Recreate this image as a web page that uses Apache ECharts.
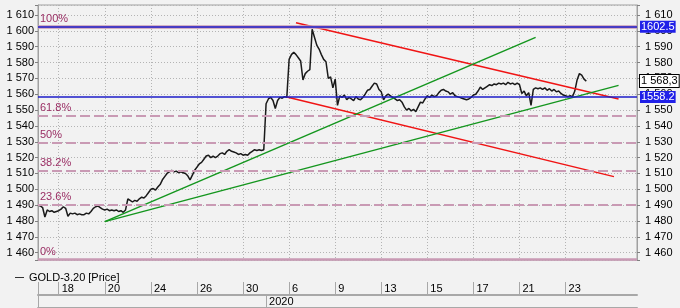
<!DOCTYPE html>
<html><head><meta charset="utf-8">
<script src="https://cdn.jsdelivr.net/npm/echarts@6/dist/echarts.min.js"></script>
<style>html,body{margin:0;padding:0;background:#f2f2f2}#c{width:680px;height:308px}</style>
</head><body><div id="c"></div>
<script>
// ---- data ----
const dayLabels = ['18','20','24','26','30','6','9','13','15','17','21','23'];
const firstLabelBar = 9;
const barsPerLabel = 20;
const totalBars = 261;
const yearLabel = '2020';
const yearStartBar = 99;
const seriesName = 'GOLD-3.20 [Price]';
const prices = [
1490,1489.5,1488.5,1482.5,1487,1486,1486.5,1485.5,1486,1486.5,
1487.5,1489,1488,1483,1485,1484.5,1485,1484,1484.5,1484,
1484,1485,1484.5,1486,1488,1489,1489.5,1488.5,1487.5,1487,
1487.5,1486.5,1487,1486.5,1487,1486,1486.5,1485.5,1487,1494,
1493,1492,1493,1492.5,1494,1495,1494.5,1496,1498,1500,
1500.5,1499.5,1501.5,1503,1506,1508,1510,1511,1512,1511,
1511.5,1510.5,1511,1510.5,1510,1508.5,1506,1509,1512,1514,
1516,1517,1519,1521,1521.5,1520,1521,1520,1521,1522.5,
1523,1522,1524,1525,1524,1523.5,1523,1522,1522.5,1521.5,
1522,1521.5,1523,1524,1525,1524.5,1525,1524.5,1525,1554,
1557,1558,1556,1551,1556,1558,1557.5,1558.5,1558,1582,
1585,1586.5,1585,1583,1581,1569,1573,1574.5,1575.5,1601,
1596,1591,1588.5,1585,1582,1580.5,1570,1571,1564,1569.5,
1553,1559,1558,1559.5,1556.5,1558,1557,1556,1558.5,1557,
1556.5,1558,1560,1562.5,1563,1565,1567,1566.5,1563,1561.5,
1556.5,1559,1560,1559,1558,1557,1556,1556.5,1555,1552,
1550,1551,1549.5,1550.5,1549,1552,1555,1554.5,1557,1559,
1558,1559.5,1558.5,1559,1561,1562.5,1563,1562,1561.5,1560,
1561,1559,1558.5,1558,1557.5,1557,1556.5,1557,1558,1559.5,
1560,1562,1564.5,1563,1564,1565,1566,1565.5,1566.5,1566,
1567,1566.5,1567,1566,1567.5,1566.5,1567,1566,1567,1566,
1560.5,1562,1559,1561,1553,1563,1564,1563.5,1564,1563,
1564,1562.5,1563.5,1562,1563,1561.5,1562,1560.5,1559.5,1559,
1558.5,1559,1558.5,1562,1569,1573,1572,1569.5,1568.3
];
const fibLabels = ['100%','61.8%','50%','38.2%','23.6%','0%'];
const fibValues = [1602.5,1546.5,1529.3,1511.9,1490.5,1456];
const levelValues = [1602.5,1558.2];
const lastPrice = 1568.3;
const redLines = [[[112,1605.1],[252,1557.0]],[[108,1558.3],[250,1508.0]]];
const greenLines = [[[29,1479.6],[216,1595.9]],[[29,1479.6],[252,1565.6]]];
const yMin = 1455.4, yMax = 1616.3;

// ---- build ----
const categories = Array.from({length: totalBars}, (_, i) => {
  const k = (i - firstLabelBar) / barsPerLabel;
  return (i >= firstLabelBar && Number.isInteger(k) && k < dayLabels.length) ? dayLabels[k] : '';
});
const yearCategories = categories.map((_, i) => i === yearStartBar ? yearLabel : '');
const isLabel = (i) => categories[i] !== '';
const FONT = 'Liberation Sans';
const fmtNum = v => (v % 10 !== 0) ? '' : String(v).replace(/(\d)(\d{3})$/, '$1 $2');
const fibColor = '#c99ab4';
const blue = '#1c1cc8';

const yCommon = {
  type: 'value', min: yMin, max: yMax, splitNumber: 16, minInterval: 10, maxInterval: 10,
  axisLine: {show: true, lineStyle: {color: '#a0a0a0'}},
  axisTick: {show: true, length: 3, lineStyle: {color: '#808080'}},
};

const option = {
  animation: false,
  backgroundColor: '#f2f2f2',
  textStyle: {fontFamily: FONT},
  legend: {
    data: [seriesName], left: 10, top: 267, icon: 'rect', itemWidth: 9, itemHeight: 1, itemGap: 6,
    textStyle: {fontSize: 11, color: '#000', fontFamily: FONT}
  },
  grid: [
    {left: 38, right: 43, top: 5, bottom: 48, show: true, borderColor: '#a0a0a0', borderWidth: 1, backgroundColor: 'transparent'},
    {left: 38, right: 43, top: 282, height: 13},
    {left: 38, right: 43, top: 295, height: 30}
  ],
  xAxis: [
    {gridIndex: 0, type: 'category', data: categories, boundaryGap: false,
     axisLine: {show: false}, axisTick: {show: false}, axisLabel: {show: false},
     splitLine: {show: true, interval: (i) => isLabel(i), lineStyle: {color: '#b4b4b4', type: [1, 2]}}},
    {gridIndex: 1, type: 'category', data: categories, boundaryGap: false, position: 'top',
     axisLine: {show: true, lineStyle: {color: '#a8a8a8', width: 2}}, axisTick: {show: false},
     axisLabel: {inside: true, interval: (i) => isLabel(i), align: 'left', margin: 1, padding: [0,0,0,3], fontSize: 11, color: '#000', fontFamily: FONT},
     splitLine: {show: true, interval: (i) => i === 0 || isLabel(i), lineStyle: {color: '#a8a8a8', width: 1}}},
    {gridIndex: 2, type: 'category', data: yearCategories, boundaryGap: false, position: 'top',
     axisLine: {show: true, lineStyle: {color: '#a8a8a8', width: 2}}, axisTick: {show: false},
     axisLabel: {inside: true, interval: (i) => i === yearStartBar, align: 'left', margin: 1, padding: [0,0,0,3], fontSize: 11, color: '#000', fontFamily: FONT},
     splitLine: {show: true, interval: (i) => i === 0 || i === yearStartBar, lineStyle: {color: '#a8a8a8', width: 1}}}
  ],
  yAxis: [
    Object.assign({}, yCommon, {gridIndex: 0, position: 'left',
      axisLabel: {margin: 4, fontSize: 11, color: '#000', fontFamily: FONT, formatter: fmtNum},
      splitLine: {show: true, lineStyle: {color: '#b4b4b4', type: [1, 2]}}}),
    Object.assign({}, yCommon, {gridIndex: 0, position: 'right',
      axisLabel: {margin: 8, fontSize: 11, color: '#000', fontFamily: FONT, formatter: fmtNum},
      splitLine: {show: false}}),
    {gridIndex: 1, type: 'value', show: false},
    {gridIndex: 2, type: 'value', show: false}
  ],
  series: [
    {type: 'line', name: 'fib', data: [], z: 1, silent: true,
     markLine: {symbol: 'none', silent: true, animation: false,
       data: fibValues.map((v, i) => ({
         yAxis: v,
         lineStyle: {color: fibColor, width: (i === 0 ? 3.5 : (i === fibValues.length - 1 ? 2.5 : 2)),
                     type: (i === 0 || i === fibValues.length - 1) ? 'solid' : [10, 4]},
         label: {show: true, position: 'insideStartTop', distance: [2, 2], formatter: fibLabels[i],
                 color: '#9a2e64', fontSize: 11, fontFamily: FONT}
       }))}},
    {type: 'line', name: 'levels', data: [], z: 5, silent: true,
     markLine: {symbol: 'none', silent: true, animation: false,
       data: levelValues.map(v => ({
         yAxis: v, lineStyle: {color: blue, width: 1.5, type: 'solid'},
         label: {show: true, position: 'end', distance: 3, formatter: v.toFixed(1),
                 backgroundColor: '#2020e8', color: '#fff', padding: [1, 1, 0, 1], fontSize: 11, fontFamily: FONT}
       })).concat([{
         yAxis: lastPrice, lineStyle: {color: 'rgba(0,0,0,0)', width: 1, type: 'solid'},
         label: {show: true, position: 'end', distance: 3,
                 formatter: String(lastPrice).replace('.', ',').replace(/^(\d)(\d{3})/, '$1 $2'),
                 backgroundColor: '#ffffff', borderColor: '#000', borderWidth: 1, color: '#000',
                 padding: [1, 1, 0, 1], fontSize: 11, fontFamily: FONT}
       }])}},
    {type: 'line', name: seriesName, data: prices, xAxisIndex: 0, yAxisIndex: 0, z: 3,
     showSymbol: false, symbol: 'none', lineStyle: {color: '#1a1a1a', width: 1.5}, itemStyle: {color: '#333'}},
  ].concat(redLines.map(d => ({type: 'line', data: d, z: 4, silent: true, symbol: 'none',
     lineStyle: {color: '#f01414', width: 1.5}})))
   .concat(greenLines.map(d => ({type: 'line', data: d, z: 4, silent: true, symbol: 'none',
     lineStyle: {color: '#14961e', width: 1.5}})))
};
const chart = echarts.init(document.getElementById('c'), null, {renderer: 'canvas'});
chart.setOption(option);
</script></body></html>
